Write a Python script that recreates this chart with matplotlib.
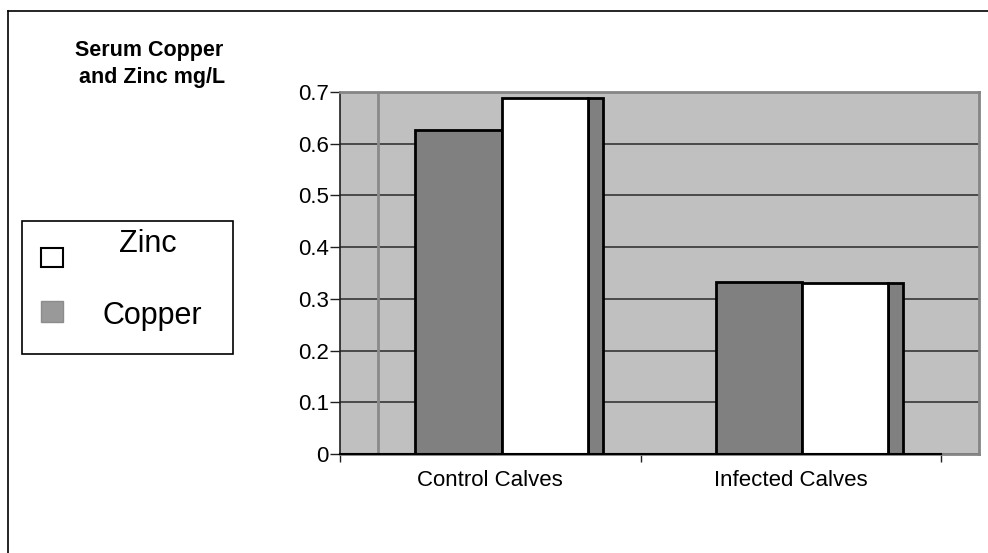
import matplotlib
matplotlib.use('Agg')
import matplotlib.pyplot as plt
from matplotlib.patches import Rectangle
from matplotlib.lines import Line2D

plt.rcParams['font.family'] = ['Liberation Sans', 'DejaVu Sans']

# data
categories = ['Control Calves', 'Infected Calves']
copper = [0.627, 0.333]
zinc = [0.688, 0.330]
series_labels = ['Zinc', 'Copper']
yticks = [0, 0.1, 0.2, 0.3, 0.4, 0.5, 0.6, 0.7]

W, H = 988, 553
fig = plt.figure(figsize=(W / 100, H / 100), dpi=100)

# plot area in pixel coords of the original
left, right, top, bottom = 340, 979, 92, 454
ax = fig.add_axes([left / W, 1 - bottom / H, (right - left) / W, (bottom - top) / H])
ax.set_facecolor('#c0c0c0')

cat_px = 300.5  # pixels per category
ax.set_xlim(0, (right - left) / cat_px)
ax.set_ylim(0, 0.7)

x = list(range(len(categories)))
bw = 0.2875
ax.bar([i + 0.25 for i in x], copper, width=bw, align='edge',
       color='#808080', edgecolor='black', linewidth=2, zorder=3)
ax.bar([i + 0.25 + bw for i in x], zinc, width=bw, align='edge',
       color='white', edgecolor='black', linewidth=2, zorder=4)
# side face of the zinc column
ax.bar([i + 0.25 + 2 * bw for i in x], zinc, width=0.05, align='edge',
       color='#808080', edgecolor='black', linewidth=2, zorder=3)

# gridlines and wall line
ax.set_axisbelow(True)
ax.yaxis.grid(True, color='#404040', linewidth=1.3)
ax.axvline(0.126, color='#8a8a8a', linewidth=2, zorder=1)

for s in ['top', 'right', 'bottom']:
    ax.spines[s].set_color('#858585')
    ax.spines[s].set_linewidth(2)
ax.spines['left'].set_color('#202020')
ax.spines['left'].set_linewidth(1.2)
ax.axhline(0, xmin=0, xmax=len(categories) / ax.get_xlim()[1],
           color='black', linewidth=1.5, zorder=5, clip_on=False)

ax.set_yticks(yticks)
ax.set_yticklabels(['0' if v == 0 else f'{v:.1f}' for v in yticks])
ax.tick_params(axis='y', direction='out', length=7, width=1, color='#202020',
               labelsize=16, pad=1)

ax.set_xticks([0, 1, 2])
ax.set_xticklabels([])
ax.tick_params(axis='x', which='major', direction='out', length=6, width=1, color='#202020')
ax.set_xticks([i + 0.5 for i in x], minor=True)
ax.set_xticklabels(categories, minor=True)
ax.tick_params(axis='x', which='minor', length=0, labelsize=16, pad=11.5)

# figure frame (top and left edges)
fig.add_artist(Line2D([8 / W, 1], [1 - 11 / H] * 2, color='black', linewidth=1.2,
                      transform=fig.transFigure))
fig.add_artist(Line2D([8 / W, 8 / W], [1 - 11 / H, 0], color='black', linewidth=1.2,
                      transform=fig.transFigure))

# title
fig.text(149 / W, 1 - 56 / H, 'Serum Copper', fontsize=15.5, fontweight='bold',
         ha='center', va='baseline')
fig.text(152 / W, 1 - 83 / H, 'and Zinc mg/L', fontsize=15.5, fontweight='bold',
         ha='center', va='baseline')

# hand-placed legend
fig.add_artist(Rectangle((22 / W, 1 - 354 / H), (233 - 22) / W, (354 - 221) / H,
                         facecolor='white', edgecolor='black', linewidth=1.2,
                         transform=fig.transFigure))
fig.add_artist(Rectangle((41 / W, 1 - 267 / H), 22 / W, 19 / H,
                         facecolor='white', edgecolor='black', linewidth=1.5,
                         transform=fig.transFigure))
fig.add_artist(Rectangle((41 / W, 1 - 322 / H), 22 / W, 21 / H,
                         facecolor='#999999', edgecolor='#8c8c8c', linewidth=1,
                         transform=fig.transFigure))
fig.text(148 / W, 1 - 252 / H, series_labels[0], fontsize=22, ha='center', va='baseline')
fig.text(152 / W, 1 - 324 / H, series_labels[1], fontsize=22, ha='center', va='baseline')

fig.savefig('out.png', dpi=100)
